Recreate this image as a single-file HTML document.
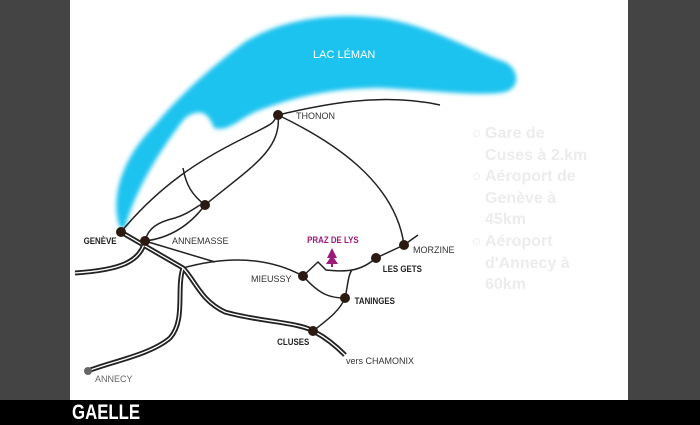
<!DOCTYPE html><html><head><style>
body{margin:0;width:700px;height:425px;background:#444;position:relative;overflow:hidden;font-family:"Liberation Sans",sans-serif}
#p{position:absolute;left:70px;top:0;width:558px;height:400px;background:#fff}
#b{position:absolute;left:0;top:400px;width:700px;height:25px;background:#000}
#g{position:absolute;left:72px;top:401px;color:#fff;font-weight:bold;font-size:21px;transform:scaleX(0.8);transform-origin:left;letter-spacing:0px}
#l{position:absolute;left:473px;top:123px;color:#ececec;font-size:16px;line-height:21.6px;font-weight:bold}
#l div{padding-left:12px;position:relative;width:106px}
#l div:before{content:"";position:absolute;left:0;top:7px;width:5px;height:5px;border:1px solid #eee;border-radius:50%}
</style></head><body>
<div id="p"></div><div id="b"></div><div id="g">GAELLE</div>
<svg width="700" height="425" style="position:absolute;left:0;top:0">
<defs><filter id="f"><feGaussianBlur stdDeviation="2"/></filter></defs>
<path filter="url(#f)" fill="#1ec3ef" d="M120,228 C110,200 120,160 155,125 C180,95 210,68 245,42 C280,20 330,12 380,18 C430,25 470,50 505,62 C520,70 520,88 505,92 C480,97 430,90 380,88 C330,88 290,98 255,112 C238,120 228,132 214,128 C208,112 200,108 185,118 C160,150 135,190 125,228 Z"/>
<g fill="none" stroke="#222" stroke-width="1.5">
<path d="M121,232 C160,185 200,160 240,140 S270,125 278,115"/>
<path d="M278,115 C320,105 380,92 440,105"/>
<path d="M278,115 C330,140 395,180 404,245 M404,245 L418,235"/>
<path d="M278,115 C282,150 250,168 205,205 C190,225 170,238 145,241"/>
<path d="M183,168 C186,185 192,195 205,205"/>
<path d="M145,241 C148,228 158,222 175,218 C185,215 192,210 200,205"/>
<path d="M145,241 L215,262"/>
<path d="M183,268 C230,255 270,258 303,276"/>
<path d="M303,276 L318,262 L326,270 C345,272 360,272 376,258 L404,245"/>
<path d="M303,276 C320,295 330,298 345,298"/>
<path d="M345,298 C348,285 348,275 352,270"/>
<path d="M345,298 C340,310 330,318 313,331"/>
</g>
<g fill="none" stroke="#222" stroke-width="5">
<path d="M121,232 L183,268 C195,280 200,300 225,312 C260,322 300,322 315,332 C330,340 340,350 345,355"/>
<path d="M75,273 C120,270 140,262 145,241"/>
<path d="M183,268 C176,290 186,320 170,338 C150,355 110,362 88,371"/>
</g>
<g fill="none" stroke="#fff" stroke-width="1.3">
<path d="M121,232 L183,268 C195,280 200,300 225,312 C260,322 300,322 315,332 C330,340 340,350 345,355"/>
<path d="M75,273 C120,270 140,262 145,241"/>
<path d="M183,268 C176,290 186,320 170,338 C150,355 110,362 88,371"/>
</g>
<g fill="#2a1a12">
<circle cx="121" cy="232" r="5"/><circle cx="145" cy="241" r="5"/><circle cx="205" cy="205" r="5"/>
<circle cx="278" cy="115" r="5"/><circle cx="404" cy="245" r="5"/><circle cx="376" cy="258" r="5"/>
<circle cx="303" cy="276" r="5"/><circle cx="345" cy="298" r="5"/><circle cx="313" cy="331" r="5"/>
</g>
<circle cx="88" cy="371" r="4" fill="#666"/>
<path d="M332,248 L327,258 L330,258 L326,264 L338,264 L334,258 L337,258 Z M331,264h2v3h-2z" fill="#9b1a7a"/>
<g font-size="9" fill="#333">
<text x="313" y="58" fill="#fff" font-size="11">LAC LÉMAN</text>
<text x="296" y="119">THONON</text>
<text x="172" y="244">ANNEMASSE</text>
<text x="413" y="253">MORZINE</text>
<text x="251" y="282">MIEUSSY</text>
<text x="346" y="364">vers CHAMONIX</text>
<text x="95" y="382" fill="#666">ANNECY</text>
<g font-weight="bold" fill="#222" font-size="9" transform="scale(0.88,1)">
<text x="95" y="244">GENÈVE</text>
<text x="435" y="272">LES GETS</text>
<text x="403" y="304">TANINGES</text>
<text x="315" y="345">CLUSES</text>
<text x="349" y="243" fill="#9b1a7a">PRAZ DE LYS</text>
</g></g>
</svg>
<div id="l"><div>Gare de Cuses à 2.km</div><div>Aéroport de Genève à 45km</div><div>Aéroport d'Annecy à 60km</div></div>
</body></html>
